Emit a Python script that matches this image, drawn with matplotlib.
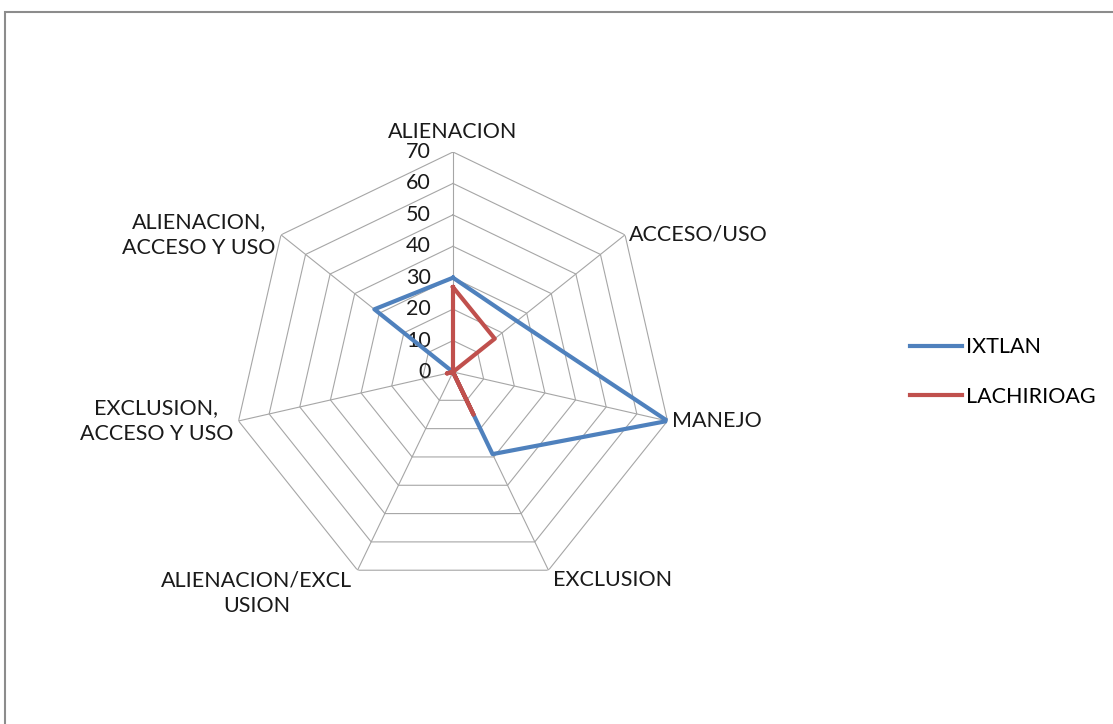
import matplotlib.pyplot as plt
import numpy as np
from matplotlib.patches import Rectangle

plt.rcParams['font.family'] = ['Lato', 'DejaVu Sans']

# Categories of the radar and the two communities
categories = ['ALIENACION', 'ACCESO/USO', 'MANEJO', 'EXCLUSION',
              'ALIENACION/EXCL\nUSION', 'EXCLUSION,\nACCESO Y USO',
              'ALIENACION,\nACCESO Y USO']
ixtlan = [30, 26, 70, 29, 0, 0, 32]
lachirioag = [27, 17, 0, 15, 0, 2, 0]
ticks = [0, 10, 20, 30, 40, 50, 60, 70]

blue = '#4F81BD'
red = '#C0504D'
grid_color = '#A6A6A6'
fs = 15.5

W, H = 1113, 724
fig = plt.figure(figsize=(W / 100, H / 100), dpi=100)

# Chart area border (only top and left edges are visible)
fig.add_artist(Rectangle((5 / W, -0.5), 2.0, 0.5 + 1 - 12 / H,
                         transform=fig.transFigure, fill=False,
                         edgecolor='#8C8C8C', linewidth=1.5))

cx, cy, R = 453, 372, 220
ax = fig.add_axes([(cx - R) / W, (H - cy - R) / H, 2 * R / W, 2 * R / H],
                  projection='polar')
ax.set_theta_zero_location('N')
ax.set_theta_direction(-1)
ax.set_ylim(0, 70)
ax.grid(False)
ax.set_xticks([])
ax.set_yticks([])
ax.spines['polar'].set_visible(False)
ax.patch.set_alpha(0)

n = len(categories)
angles = np.arange(n) * 2 * np.pi / n
closed = np.append(angles, angles[0])

# Heptagon rings and spokes
for t in ticks[1:]:
    ax.plot(closed, [t] * (n + 1), color=grid_color, lw=0.8, zorder=1)
for a in angles:
    ax.plot([a, a], [0, 70], color=grid_color, lw=0.8, zorder=1)

# Value labels along the top spoke
for t in ticks:
    ax.annotate(str(t), (0, t), xytext=(-16, 0), textcoords='offset points',
                ha='right', va='center', fontsize=fs, color='#1a1a1a')

# Category labels around the outside
for a, lab in zip(angles, categories):
    s, c = np.sin(a), np.cos(a)
    if abs(s) < 0.1:
        ha, va, off = 'center', 'bottom', (0, 7)
    elif s > 0:
        ha, va, off = 'left', 'center', (3, 0)
    else:
        ha, va, off = 'right', 'center', (-4, 0)
    if c < -0.5:
        va = 'top'
        off = (off[0], 0)
    ax.annotate(lab, (a, 70), xytext=off, textcoords='offset points',
                ha=ha, va=va, multialignment='center', fontsize=fs,
                color='#1a1a1a', linespacing=1.35)

ax.plot(closed, ixtlan + ixtlan[:1], color=blue, lw=3, label='IXTLAN',
        zorder=3)
ax.plot(closed, lachirioag + lachirioag[:1], color=red, lw=3,
        label='LACHIRIOAG', zorder=4)

fig.legend(loc='center left', bbox_to_anchor=(891 / W, 1 - 372 / H),
           frameon=False, fontsize=fs, handlelength=2.4, handletextpad=0.2,
           labelspacing=1.35)

fig.savefig('out.png', dpi=100)
